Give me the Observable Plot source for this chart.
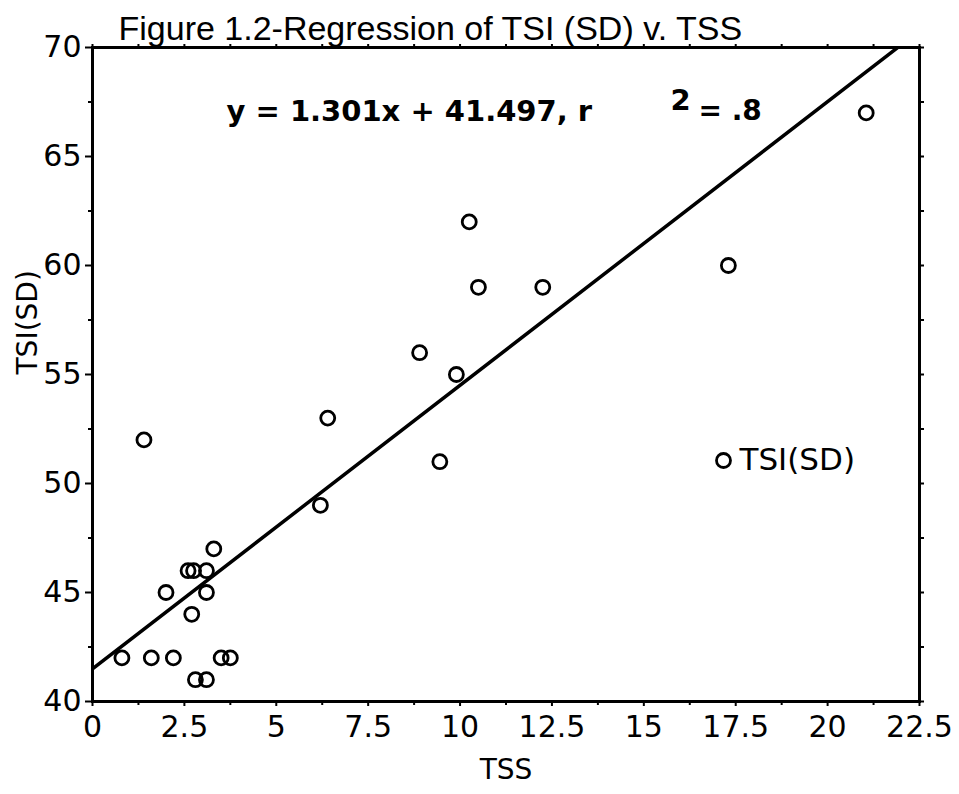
<!DOCTYPE html>
<html>
<head>
<meta charset="utf-8">
<script src="https://cdn.jsdelivr.net/npm/d3@7"></script>
<script src="https://cdn.jsdelivr.net/npm/@observablehq/plot@0.6"></script>
<style>
  html, body { margin: 0; padding: 0; background: #fff; }
  svg { font-family: "DejaVu Sans", sans-serif; }
</style>
</head>
<body>
<div id="chart"></div>
<script>
// Data
const tss = [0.8, 1.6, 2.2, 3.5, 3.75, 2.8, 3.1, 2.7, 2.0, 3.1, 2.6, 2.75, 3.1, 3.3, 1.4, 6.2, 6.4, 9.45, 8.9, 9.9, 10.25, 10.5, 12.25, 17.3, 21.05];
const tsiSD = [42, 42, 42, 42, 42, 41, 41, 44, 45, 45, 46, 46, 46, 47, 52, 49, 53, 51, 56, 55, 62, 59, 59, 60, 67];
const slope = 1.301;
const intercept = 41.497;
const xTicks = [0, 2.5, 5, 7.5, 10, 12.5, 15, 17.5, 20, 22.5];
const xMinor = [1.25, 3.75, 6.25, 8.75, 11.25, 13.75, 16.25, 18.75, 21.25];
const yTicks = [40, 45, 50, 55, 60, 65, 70];
const yMinor = [42.5, 47.5, 52.5, 57.5, 62.5, 67.5];
const titleText = ["Figure 1.2-Regression of TSI (SD) v. TSS"];
const eqMain = ["y = 1.301x + 41.497, r"];
const eqSup = ["2"];
const eqTail = ["= .8"];
const legendLabel = ["TSI(SD)"];
const xLabel = ["TSS"];
const yLabel = ["TSI(SD)"];

const points = tss.map((x, i) => ({x, y: tsiSD[i]}));
const fitLine = [0, 22.5].map(x => ({x, y: slope * x + intercept}));
const allX = xTicks.concat(xMinor);
const allY = yTicks.concat(yMinor);

const chart = Plot.plot({
  width: 959,
  height: 794,
  marginLeft: 92,
  marginRight: 40,
  marginTop: 47,
  marginBottom: 93,
  style: {background: "#fff", color: "#000", fontFamily: "DejaVu Sans, sans-serif", overflow: "visible"},
  x: {domain: [0, 22.5]},
  y: {domain: [40, 70]},
  marks: [
    // axes
    Plot.axisX({ticks: xTicks, tickSize: 5, tickPadding: 9, fontSize: 30, strokeWidth: 2, label: null, tickFormat: d => String(d)}),
    Plot.axisX({ticks: xMinor, tickSize: 4, text: null, strokeWidth: 2, label: null}),
    Plot.axisX({anchor: "top", ticks: allX, tickSize: 4, text: null, strokeWidth: 2, label: null}),
    Plot.axisY({ticks: yTicks, tickSize: 7, tickPadding: 4, fontSize: 30, strokeWidth: 2, label: null, tickFormat: d => String(d)}),
    Plot.axisY({ticks: yMinor, tickSize: 4, text: null, strokeWidth: 2, label: null}),
    Plot.axisY({anchor: "right", ticks: allY, tickSize: 4, text: null, strokeWidth: 2, label: null}),
    Plot.frame({stroke: "#000", strokeWidth: 3}),
    // regression line
    Plot.line(fitLine, {x: "x", y: "y", stroke: "#000", strokeWidth: 3.5, clip: true}),
    // data points
    Plot.dot(points, {x: "x", y: "y", r: 7, stroke: "#000", strokeWidth: 2.8, fill: "none"}),
    // legend
    Plot.dot(legendLabel, {frameAnchor: "right", dx: -196, dy: 86, r: 7, stroke: "#000", strokeWidth: 2.8, fill: "none"}),
    Plot.text(legendLabel, {frameAnchor: "right", dx: -180, dy: 86, text: d => d, textAnchor: "start", fontSize: 31, fill: "#000"}),
    // equation
    Plot.text(eqMain, {frameAnchor: "top-left", dx: 134, dy: 53, text: d => d, textAnchor: "start", fontSize: 29, fontWeight: "bold", fill: "#000"}),
    Plot.text(eqSup, {frameAnchor: "top-left", dx: 578, dy: 42, text: d => d, textAnchor: "start", fontSize: 29, fontWeight: "bold", fill: "#000"}),
    Plot.text(eqTail, {frameAnchor: "top-left", dx: 606, dy: 53, text: d => d, textAnchor: "start", fontSize: 28, fontWeight: "bold", fill: "#000"}),
    // title and axis labels
    Plot.text(titleText, {frameAnchor: "top-left", dx: 26, dy: -32, text: d => d, textAnchor: "start", fontSize: 34, fontFamily: "Liberation Sans, Arial, sans-serif", fill: "#000"}),
    Plot.text(xLabel, {frameAnchor: "bottom", dy: 77, text: d => d, fontSize: 28, fill: "#000"}),
    Plot.text(yLabel, {frameAnchor: "left", dx: -64, rotate: -90, text: d => d, fontSize: 28, fill: "#000"})
  ]
});
document.getElementById("chart").appendChild(chart);
</script>
</body>
</html>
